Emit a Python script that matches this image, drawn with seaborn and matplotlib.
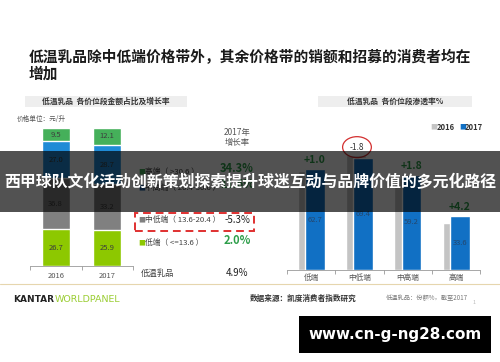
import numpy as np
import pandas as pd
import matplotlib
matplotlib.use("Agg")
import matplotlib.pyplot as plt
from matplotlib.patches import Rectangle
from matplotlib.lines import Line2D
import seaborn as sns

# ---------------- data ----------------
title_line1 = "低温乳品除中低端价格带外，其余价格带的销额和招募的消费者均在"
title_line2 = "增加"
banner_text = "西甲球队文化活动创新策划探索提升球迷互动与品牌价值的多元化路径"
left_header = "低温乳品  各价位段金额占比及增长率"
right_header = "低温乳品  各价位段渗透率%"
unit_note = "价格单位：元/升"
growth_header = ["2017年", "增长率"]

share_years = ["2016", "2017"]
share_segments = ["低端", "中低端", "中高端", "高端"]          # bottom -> top
share_2016 = [26.7, 36.8, 27.0, 9.5]
share_2017 = [25.9, 33.2, 28.7, 12.1]
segment_legend = ["高端（ >30.6 ）", "中高端（ 20.4-30.6 ）", "中低端（ 13.6-20.4 ）", "低端（ <=13.6 ）"]
growth_2017 = ["34.3%", "11.6%", "-5.3%", "2.0%"]
total_label = "低温乳品"
total_growth = "4.9%"

pen_categories = ["低端", "中低端", "中高端", "高端"]
pen_years = ["2016", "2017"]
pen_2016 = [61.7, 71.2, 57.4, 29.4]
pen_2017 = [62.7, 69.4, 59.2, 33.6]

source_text = "数据来源：凯度消费者指数研究"
source_note = "低温乳品：份额%，截至2017"
brand_a = "KANTAR"
brand_b = "WORLDPANEL"
watermark = "www.cn-g-ng28.com"

# ---------------- style ----------------
sns.set_theme(style="white")
plt.rcParams["font.family"] = ["Noto Sans CJK SC", "DejaVu Sans"]

W, H = 500, 362
fig = plt.figure(figsize=(5, 3.62), dpi=100)
fig.patch.set_facecolor("white")

def fx(x):
    return x / W

def fy(y):
    return 1 - y / H

seg_colors = ["#8DC800", "#808080", "#1F8BD6", "#45B05A"]   # bottom -> top
c2016, c2017 = "#C4C4C4", "#1170C4"
green = "#2E9E4A"

# ---------------- title ----------------
fig.text(fx(29), fy(57), title_line1, fontsize=10.6, fontweight="bold", color="#1a1a1a", va="center", ha="left")
fig.text(fx(29), fy(74), title_line2, fontsize=10.6, fontweight="bold", color="#1a1a1a", va="center", ha="left")

# header boxes
fig.patches.append(Rectangle((fx(25), fy(107)), (187 - 25) / W, 11 / H, transform=fig.transFigure,
                             facecolor="#EEEEEE", edgecolor="none", zorder=1))
fig.text(fx(106), fy(101.5), left_header, fontsize=5.6, fontweight="bold", color="#333333", ha="center", va="center")
fig.patches.append(Rectangle((fx(318), fy(107)), (472 - 318) / W, 11 / H, transform=fig.transFigure,
                             facecolor="#EEEEEE", edgecolor="none", zorder=1))
fig.text(fx(395), fy(101.5), right_header, fontsize=5.6, fontweight="bold", color="#333333", ha="center", va="center")
fig.text(fx(17), fy(119), unit_note, fontsize=4.8, style="italic", color="#555555", ha="left", va="center")

# ---------------- left stacked chart ----------------
ax1 = fig.add_axes([fx(30), fy(266), 103 / W, 138 / H])
vals = np.array([share_2016, share_2017])          # years x segments
cums = np.cumsum(vals, axis=1)
for k in reversed(range(len(share_segments))):
    sns.barplot(x=share_years, y=cums[:, k], color=seg_colors[k], width=0.54,
                saturation=1, errorbar=None, ax=ax1)
for j in range(len(share_years)):
    for k in range(len(share_segments)):
        ax1.text(j, cums[j, k] - vals[j, k] / 2, f"{vals[j, k]:.1f}", ha="center", va="center",
                 fontsize=5.5, color="#3d3d3d")
ax1.set_xlim(-0.5, 1.5)
ax1.set_ylim(0, 100)
ax1.set_yticks([])
ax1.set_ylabel("")
ax1.set_xticks(range(len(share_years)))
ax1.set_xticklabels(share_years)
ax1.set_xticks([-0.5, 0.5, 1.5], minor=True)
ax1.tick_params(axis="x", which="major", length=0, labelsize=5.5, labelcolor="#555555", pad=4)
ax1.tick_params(axis="x", which="minor", length=3, width=0.6, color="#999999", direction="out", bottom=True)
for s in ["top", "left", "right"]:
    ax1.spines[s].set_visible(False)
ax1.spines["bottom"].set_color("#999999")
ax1.spines["bottom"].set_linewidth(0.6)
ax1.patch.set_alpha(0)

# middle legend / growth column
fig.text(fx(237), fy(133), growth_header[0], fontsize=6, style="italic", color="#555555", ha="center", va="center")
fig.text(fx(237), fy(143), growth_header[1], fontsize=6, style="italic", color="#555555", ha="center", va="center")
row_y = [172, 188, 220, 243]
legend_colors = [seg_colors[3], "#1F5FA0", seg_colors[1], seg_colors[0]]
for i in range(4):
    fig.text(fx(138), fy(row_y[i]), "■", fontsize=5, color=legend_colors[i], ha="left", va="center")
    fig.text(fx(145), fy(row_y[i]), segment_legend[i], fontsize=5.6, color="#404040", ha="left", va="center")
    g = growth_2017[i]
    if g.startswith("-"):
        fig.text(fx(237), fy(row_y[i]), g, fontsize=7, color="#222222", ha="center", va="center")
    else:
        fig.text(fx(237), fy(row_y[i] - 3), g, fontsize=8, color=green, fontweight="bold",
                 style="italic", ha="center", va="center")
fig.text(fx(141), fy(273), total_label, fontsize=6, color="#404040", ha="left", va="center")
fig.text(fx(237), fy(273), total_growth, fontsize=7, color="#222222", ha="center", va="center")
fig.patches.append(Rectangle((fx(135), fy(231)), (254 - 135) / W, 18 / H, transform=fig.transFigure,
                             facecolor="none", edgecolor="#E03030", linewidth=1.4, linestyle=(0, (4, 2.5)),
                             zorder=5))

# ---------------- right chart ----------------
ax2 = fig.add_axes([fx(287), fy(270), 193 / W, 130 / H])
pos = np.arange(len(pen_categories))
sns.barplot(x=pos - 0.07, y=pen_2016, native_scale=True, width=0.41, color=c2016,
            saturation=1, errorbar=None, ax=ax2)
sns.barplot(x=pos + 0.08, y=pen_2017, native_scale=True, width=0.41, color=c2017,
            saturation=1, errorbar=None, ax=ax2)
for i in range(len(pen_categories)):
    v = pen_2017[i]
    ax2.text(i + 0.08, v / 2, f"{v:.1f}", ha="center", va="center", fontsize=5.5, color="#24476E")
    d = pen_2017[i] - pen_2016[i]
    if d < 0:
        ax2.annotate(f"{d:.1f}", (i + 0.08, v), xytext=(-4.5, 8), textcoords="offset points",
                     ha="center", va="center", fontsize=6, color="#333333",
                     bbox=dict(boxstyle="ellipse,pad=0.35", fc="none", ec="#D32F2F", lw=0.9))
    else:
        ax2.annotate(f"{d:+.1f}", (i + 0.08, v), xytext=(0, 6.5), textcoords="offset points",
                     ha="center", va="center", fontsize=7.5, color=green, fontweight="bold", style="italic")
ax2.set_xlim(-0.5, 3.5)
ax2.set_ylim(0, 130 / 1.61)
ax2.set_yticks([])
ax2.set_ylabel("")
ax2.set_xticks(pos)
ax2.set_xticklabels(pen_categories)
ax2.set_xticks(np.arange(-0.5, 4, 1.0), minor=True)
ax2.tick_params(axis="x", which="major", length=0, labelsize=5.5, labelcolor="#555555", pad=3)
ax2.tick_params(axis="x", which="minor", length=3, width=0.6, color="#999999", direction="out", bottom=True)
for s in ["top", "left", "right"]:
    ax2.spines[s].set_visible(False)
ax2.spines["bottom"].set_color("#999999")
ax2.spines["bottom"].set_linewidth(0.6)
ax2.patch.set_alpha(0)

# right legend
fig.text(fx(430), fy(127), "■", fontsize=5, color=c2016, ha="left", va="center")
fig.text(fx(437), fy(127), pen_years[0], fontsize=5.5, fontweight="bold", color="#333333", ha="left", va="center")
fig.text(fx(459), fy(127), "■", fontsize=5, color=c2017, ha="left", va="center")
fig.text(fx(465), fy(127), pen_years[1], fontsize=5.5, fontweight="bold", color="#333333", ha="left", va="center")

# ---------------- footer ----------------
fig.lines.append(Line2D([0, 1], [fy(284), fy(284)], transform=fig.transFigure, color="#E6D6AE", lw=0.8))
fig.text(fx(13), fy(300), brand_a, fontsize=6.5, fontweight="bold", color="#222222",
         family="DejaVu Sans", ha="left", va="center")
fig.text(fx(55), fy(300), brand_b, fontsize=6.8, color="#9ACD32",
         family="DejaVu Sans", ha="left", va="center")
fig.text(fx(250), fy(298), source_text, fontsize=5.5, fontweight="bold", color="#333333", ha="left", va="center")
fig.text(fx(386), fy(298), source_note, fontsize=4.5, style="italic", color="#777777", ha="left", va="center")
fig.text(fx(474), fy(302), "1", fontsize=4, color="#bbbbbb", ha="center", va="center")

# ---------------- overlay banner ----------------
fig.patches.append(Rectangle((0, fy(212)), 1, 61 / H, transform=fig.transFigure,
                             facecolor="black", alpha=0.68, edgecolor="none", zorder=10))
fig.text(0.5, fy(182), banner_text, fontsize=11.45, fontweight="bold", color="white",
         ha="center", va="center", zorder=11)

# watermark
fig.patches.append(Rectangle((fx(299), fy(353)), (491 - 299) / W, 37 / H, transform=fig.transFigure,
                             facecolor="black", edgecolor="none", zorder=10))
fig.text(fx(395), fy(335), watermark, fontsize=10.9, fontweight="bold", color="white",
         family="DejaVu Sans", ha="center", va="center", zorder=11)

fig.savefig("out.png", dpi=100)
